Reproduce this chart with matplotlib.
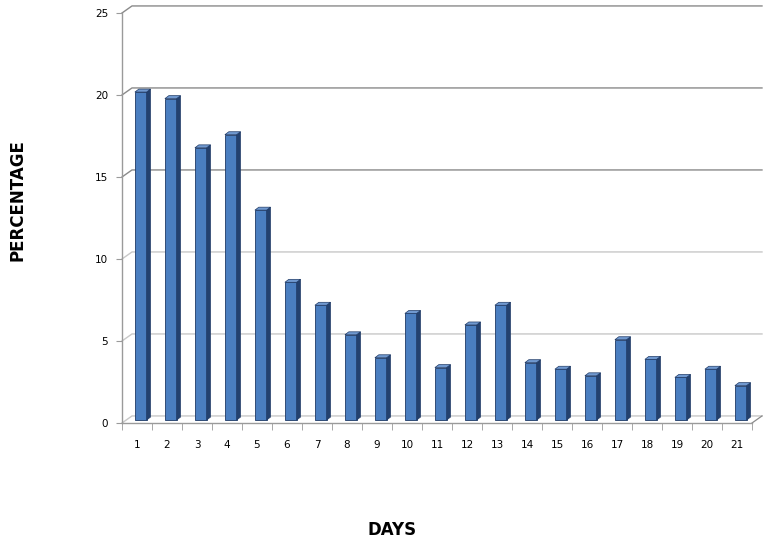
# -*- coding: utf-8 -*-
"""Excel-style 3D column chart: percentage by day."""

import numpy as np
import matplotlib
matplotlib.use("Agg")
import matplotlib.pyplot as plt
from matplotlib.patches import Polygon

# data
days = list(range(1, 22))
day_labels = [str(d) for d in days]
percentages = [20.0, 19.6, 16.6, 17.4, 12.8, 8.4, 7.0, 5.2, 3.8, 6.5, 3.2,
               5.8, 7.0, 3.5, 3.1, 2.7, 4.9, 3.7, 2.6, 3.1, 2.1]
y_ticks = [0, 5, 10, 15, 20, 25]

fig = plt.figure(figsize=(7.65, 5.46), dpi=100)
ax = fig.add_axes([122 / 765, (546 - 423) / 546, 630 / 765, 410 / 546])
ax.set_xlim(0.5, 21.5)
ax.set_ylim(0, 25)

# 3D look: back wall offset and bar depth (in data units)
wall_dx, wall_dy = 0.333, 0.43
bar_dx, bar_dy = 0.13, 0.18
base = 0.18
bar_w = 0.39

front = "#4A7EC0"
side = "#23416F"
top = "#7099D0"
edge = "#1F3A66"

# back-wall gridlines with the diagonal side edge
for v in y_ticks:
    col = "#8a8a8a" if v >= 15 else "#c8c8c8"
    ax.plot([0.5, 0.5 + wall_dx, 21.5 + wall_dx], [v, v + wall_dy, v + wall_dy],
            color=col, lw=1.0, clip_on=False, zorder=1)
ax.plot([21.5, 21.5 + wall_dx], [0, wall_dy], color="#8a8a8a", lw=0.9,
        clip_on=False, zorder=1)

x = np.array(days, dtype=float)
vals = np.array(percentages)
ax.bar(x - 0.07, vals, width=bar_w, bottom=base, align="edge", color=front,
       edgecolor=edge, linewidth=0.6, zorder=3)
for xi, v in zip(x, vals):
    l, r = xi - 0.07, xi - 0.07 + bar_w
    h = base + v
    ax.add_patch(Polygon([(r, base), (r + bar_dx, base + bar_dy),
                          (r + bar_dx, h + bar_dy), (r, h)],
                         closed=True, facecolor=side, edgecolor=edge,
                         linewidth=0.5, zorder=3, clip_on=False))
    ax.add_patch(Polygon([(l, h), (l + bar_dx, h + bar_dy),
                          (r + bar_dx, h + bar_dy), (r, h)],
                         closed=True, facecolor=top, edgecolor=edge,
                         linewidth=0.5, zorder=3, clip_on=False))

for s in ["top", "right"]:
    ax.spines[s].set_visible(False)
for s in ["left", "bottom"]:
    ax.spines[s].set_color("#9a9a9a")
    ax.spines[s].set_linewidth(1.0)

ax.set_yticks(y_ticks)
ax.set_yticklabels([str(t) for t in y_ticks], fontsize=7.5)
ax.tick_params(axis="y", length=4, color="#9a9a9a", pad=6)
ax.set_xticks(x)
ax.set_xticklabels(day_labels, fontsize=7.5)
ax.set_xticks(np.arange(0.5, 22, 1.0), minor=True)
ax.tick_params(axis="x", which="major", length=0, pad=12)
ax.tick_params(axis="x", which="minor", length=5, color="#9a9a9a")

fig.text(18 / 765, 1 - 200 / 546, "PERCENTAGE", rotation=90, ha="center",
         va="center", fontsize=12, fontweight="heavy")
fig.text(392 / 765, 1 - 530 / 546, "DAYS", ha="center", va="center",
         fontsize=12, fontweight="heavy")

fig.savefig("out.png", dpi=100)
plt.close(fig)
